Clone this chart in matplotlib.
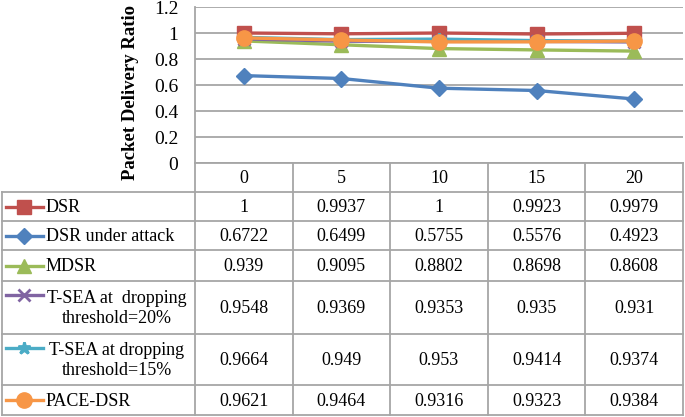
import numpy as np
import matplotlib.pyplot as plt
from matplotlib.lines import Line2D

# данные графика
x_labels = ['0', '5', '10', '15', '20']
series_names = ['DSR', 'DSR under attack', 'MDSR',
                'T-SEA at  dropping\nthreshold=20%',
                'T-SEA at dropping\nthreshold=15%',
                'PACE-DSR']
dsr = [1, 0.9937, 1, 0.9923, 0.9979]
dsr_attack = [0.6722, 0.6499, 0.5755, 0.5576, 0.4923]
mdsr = [0.939, 0.9095, 0.8802, 0.8698, 0.8608]
tsea20 = [0.9548, 0.9369, 0.9353, 0.935, 0.931]
tsea15 = [0.9664, 0.949, 0.953, 0.9414, 0.9374]
pace = [0.9621, 0.9464, 0.9316, 0.9323, 0.9384]
values = [dsr, dsr_attack, mdsr, tsea20, tsea15, pace]

colors = ['#C0504D', '#4F81BD', '#9BBB59', '#8064A2', '#4BACC6', '#F79646']
markers = ['s', 'D', '^', 'x', '*', 'o']
msizes = [10, 8, 10, 8, 9, 11]

W, H = 685, 417
plt.rcParams['font.family'] = ['Liberation Serif', 'DejaVu Serif']
fig = plt.figure(figsize=(W / 100, H / 100), dpi=100)

# оверлей в пикселях для таблицы
ov = fig.add_axes([0, 0, 1, 1])
ov.set_xlim(0, W)
ov.set_ylim(H, 0)
ov.axis('off')

# геометрия таблицы
x_left, x_first, x_right = 2, 195, 683
col_w = (x_right - x_first) / len(x_labels)
col_edges = [x_first + i * col_w for i in range(len(x_labels) + 1)]
row_edges = [163, 192, 221, 250, 281, 334, 385, 415]
grid_c = '#A6A6A6'
fs = 13

# основной график
y_top, y_zero = 7, 163
ax = fig.add_axes([x_first / W, 1 - y_zero / H, (x_right - x_first) / W, (y_zero - y_top) / H])
xs = np.arange(len(x_labels))
for name, vals, c, m, ms in zip(series_names, values, colors, markers, msizes):
    ax.plot(xs, vals, color=c, lw=2.4, marker=m, ms=ms, mew=2 if m in 'x*' else 1,
            mec=c, mfc=c, label=name)
ax.set_xlim(-0.5, len(x_labels) - 0.5)
ax.set_ylim(0, 1.2)
ax.set_yticks(np.arange(0, 1.21, 0.2))
ax.set_yticklabels(['0', '0.2', '0.4', '0.6', '0.8', '1', '1.2'], fontsize=14)
ax.set_xticks([])
ax.grid(axis='y', color=grid_c, lw=1.3)
ax.set_axisbelow(True)
for s in ['top', 'right', 'bottom']:
    ax.spines[s].set_visible(False)
ax.spines['left'].set_color(grid_c)
ax.spines['left'].set_linewidth(1.3)
ax.tick_params(axis='y', length=0, pad=12)
ax.patch.set_alpha(0)

# подпись оси Y (ниже центра оси, как в оригинале)
ov.text(131, 92, 'Packet Delivery Ratio', rotation=90, ha='center', va='center',
        fontsize=13.5, fontweight='bold')

# линии таблицы
lw = 1.3
ov.plot([x_first, x_right], [row_edges[0], row_edges[0]], color=grid_c, lw=lw)
for y in row_edges[1:]:
    ov.plot([x_left, x_right], [y, y], color=grid_c, lw=lw)
ov.plot([x_left, x_left], [row_edges[1], row_edges[-1]], color=grid_c, lw=lw)
for x in col_edges:
    ov.plot([x, x], [row_edges[0], row_edges[-1]], color=grid_c, lw=lw)

# заголовок столбцов
for i, lab in enumerate(x_labels):
    ov.text((col_edges[i] + col_edges[i + 1]) / 2, (row_edges[0] + row_edges[1]) / 2 + 1,
            lab, ha='center', va='center', fontsize=fs)

# строки таблицы
for r, (name, vals, c, m, ms) in enumerate(zip(series_names, values, colors, markers, msizes)):
    y0, y1 = row_edges[r + 1], row_edges[r + 2]
    yc = (y0 + y1) / 2 + 1
    two_lines = '\n' in name
    ykey = y0 + 14 if two_lines else yc - 1
    ov.add_line(Line2D([6, 43], [ykey, ykey], color=c, lw=2.4))
    ov.add_line(Line2D([24.5], [ykey], color=c, marker=m, ms=ms,
                       mew=2 if m in 'x*' else 1, mec=c, mfc=c))
    if two_lines:
        ov.text(117, yc, name, ha='center', va='center', fontsize=fs,
                multialignment='center', linespacing=1.25)
    else:
        ov.text(46, yc, name, ha='left', va='center', fontsize=fs)
    for i, v in enumerate(vals):
        ov.text((col_edges[i] + col_edges[i + 1]) / 2, yc, f'{v:g}',
                ha='center', va='center', fontsize=fs)

fig.savefig('out.png', dpi=100)
